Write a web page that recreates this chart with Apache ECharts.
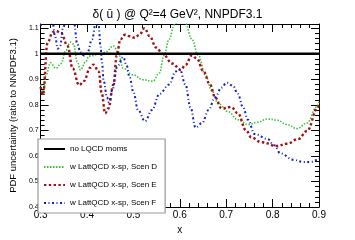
<!DOCTYPE html>
<html><head><meta charset="utf-8">
<script src="https://cdn.jsdelivr.net/npm/echarts@6/dist/echarts.min.js"></script>
<style>html,body{margin:0;padding:0;background:#fff}#c{width:355px;height:240px}</style>
</head><body><div id="c"></div>
<script>
const xTicks = [0.3,0.4,0.5,0.6,0.7,0.8,0.9];
const refLineX = [0.3, 0.9];
const refLineY = [1.0, 1.0];
const xE = [0.300,0.305,0.315,0.326,0.333,0.344,0.358,0.369,0.383,0.393,0.407,0.414,0.425,0.432,0.439,0.446,0.457,0.464,0.472,0.482,0.492,0.503,0.513,0.524,0.535,0.549,0.563,0.584,0.602,0.612,0.626,0.637,0.651,0.665,0.676,0.690,0.711,0.725,0.743,0.754,0.775,0.810,0.831,0.856,0.874,0.898,0.900];
const yE = [0.87,0.84,1.044,1.085,1.09,1.082,1.031,0.943,0.877,0.893,0.946,0.958,0.931,0.843,0.767,0.786,0.880,0.994,1.057,1.075,1.069,1.063,1.075,1.101,1.069,1.025,1.0,0.962,0.937,0.956,0.994,0.981,0.931,0.880,0.830,0.786,0.792,0.767,0.700,0.673,0.654,0.639,0.648,0.667,0.698,0.792,0.80];
const xD = [0.300,0.305,0.312,0.321,0.333,0.344,0.354,0.364,0.371,0.379,0.386,0.397,0.404,0.429,0.439,0.457,0.467,0.478,0.499,0.520,0.542,0.556,0.566,0.577,0.588,0.603,0.612,0.626,0.640,0.655,0.669,0.683,0.704,0.725,0.747,0.768,0.789,0.810,0.831,0.853,0.874,0.895,0.900];
const yD = [0.88,0.843,0.918,0.965,0.943,0.962,1.012,1.046,1.038,0.969,0.937,0.969,0.991,1.0,1.006,1.031,1.006,0.943,0.918,0.899,0.893,0.925,0.994,1.057,1.113,1.16,1.12,1.057,0.994,0.918,0.855,0.805,0.774,0.742,0.723,0.732,0.745,0.740,0.723,0.707,0.729,0.792,0.81];
const xF = [0.300,0.310,0.318,0.326,0.331,0.337,0.342,0.348,0.356,0.365,0.372,0.379,0.386,0.393,0.400,0.411,0.418,0.425,0.429,0.432,0.436,0.443,0.447,0.455,0.465,0.478,0.485,0.492,0.500,0.510,0.525,0.540,0.556,0.577,0.591,0.600,0.612,0.623,0.634,0.648,0.662,0.676,0.690,0.701,0.715,0.725,0.736,0.747,0.761,0.789,0.803,0.817,0.845,0.867,0.881,0.898,0.900];
const yF = [1.11,1.14,1.15,1.12,1.07,1.02,1.03,1.10,1.14,1.15,1.12,1.038,1.006,0.994,1.0,1.057,1.113,1.113,1.031,0.969,0.893,0.830,0.81,0.86,0.95,0.988,0.956,0.906,0.85,0.78,0.736,0.78,0.843,0.88,0.931,0.94,0.88,0.79,0.711,0.729,0.78,0.830,0.868,0.887,0.874,0.843,0.792,0.742,0.686,0.667,0.642,0.610,0.585,0.576,0.576,0.585,0.59];
const names = ['no LQCD moms','w LattQCD x-sp, Scen D','w LattQCD x-sp, Scen E','w LattQCD x-sp, Scen F'];

const pairs = (xs, ys) => xs.map((x, i) => [x, ys[i]]);
const FONT = 'Liberation Sans';
const chart = echarts.init(document.getElementById('c'), null, {renderer: 'canvas'});
const axisCommon = {
  min: 0.3, max: 0.9, interval: 0.1,
  axisLine: {show: true, lineStyle: {color: '#000', width: 1}},
  axisTick: {show: true, inside: true, length: 8, lineStyle: {color: '#000'}},
  minorTick: {show: true, splitNumber: 5, length: 4, lineStyle: {color: '#000'}},
  splitLine: {show: false}
};
const yCommon = {
  min: 0.4, max: 1.117, interval: 0.1,
  axisLine: {show: true, lineStyle: {color: '#000', width: 1}},
  axisTick: {show: true, inside: true, length: 8, lineStyle: {color: '#000'}},
  minorTick: {show: true, splitNumber: 5, length: 4, lineStyle: {color: '#000'}},
  splitLine: {show: false}
};
const sm = {smooth: 0.4, smoothMonotone: 'x', symbol: 'none', clip: true};
chart.setOption({
  animation: false,
  backgroundColor: '#fff',
  title: {
    text: 'δ( ū ) @ Q²=4 GeV², NNPDF3.1',
    left: 'center', top: 4,
    textStyle: {fontFamily: FONT, fontSize: 12, fontWeight: 'normal', color: '#000'}
  },
  grid: {left: 36, right: 36, top: 24, bottom: 25},
  legend: {
    orient: 'vertical', left: 38, top: 139,
    data: names,
    itemWidth: 21, itemHeight: 8, itemGap: 10,
    padding: [6, 8, 6, 5],
    itemStyle: {opacity: 0},
    backgroundColor: '#fff', borderColor: '#999', borderWidth: 1.2,
    textStyle: {fontFamily: FONT, fontSize: 8, color: '#000'}
  },
  xAxis: [
    Object.assign({}, axisCommon, {
      type: 'value', position: 'bottom',
      name: 'x', nameLocation: 'middle', nameGap: 18,
      nameTextStyle: {fontFamily: FONT, fontSize: 10, color: '#000'},
      axisLabel: {fontFamily: FONT, fontSize: 10, color: '#000', margin: 3,
        formatter: v => v.toFixed(1)}
    }),
    Object.assign({}, axisCommon, {type: 'value', position: 'top', axisLabel: {show: false}})
  ],
  yAxis: [
    Object.assign({}, yCommon, {
      type: 'value', position: 'left',
      name: 'PDF uncertainty (ratio to NNPDF3.1)', nameLocation: 'middle', nameGap: 22,
      nameTextStyle: {fontFamily: FONT, fontSize: 9.5, color: '#000'},
      axisLabel: {fontFamily: FONT, fontSize: 7, color: '#000', margin: 2, showMaxLabel: false,
        formatter: v => String(parseFloat(v.toFixed(2)))}
    }),
    Object.assign({}, yCommon, {type: 'value', position: 'right', axisLabel: {show: false}})
  ],
  series: [
    {name: names[0], type: 'line', data: pairs(refLineX, refLineY), symbol: 'none',
     lineStyle: {color: '#000', width: 2.5, type: 'solid'}, z: 5},
    Object.assign({name: names[1], type: 'line', data: pairs(xD, yD),
     lineStyle: {color: '#3cc23c', width: 1.6, type: [1.5, 1.5]}}, sm),
    Object.assign({name: names[2], type: 'line', data: pairs(xE, yE),
     lineStyle: {color: '#a50f0f', width: 2.4, type: [2.4, 2.4]}}, sm),
    Object.assign({name: names[3], type: 'line', data: pairs(xF, yF),
     lineStyle: {color: '#1020c0', width: 2, type: [2, 2.5, 1, 2.5]}}, sm)
  ]
});
</script></body></html>
